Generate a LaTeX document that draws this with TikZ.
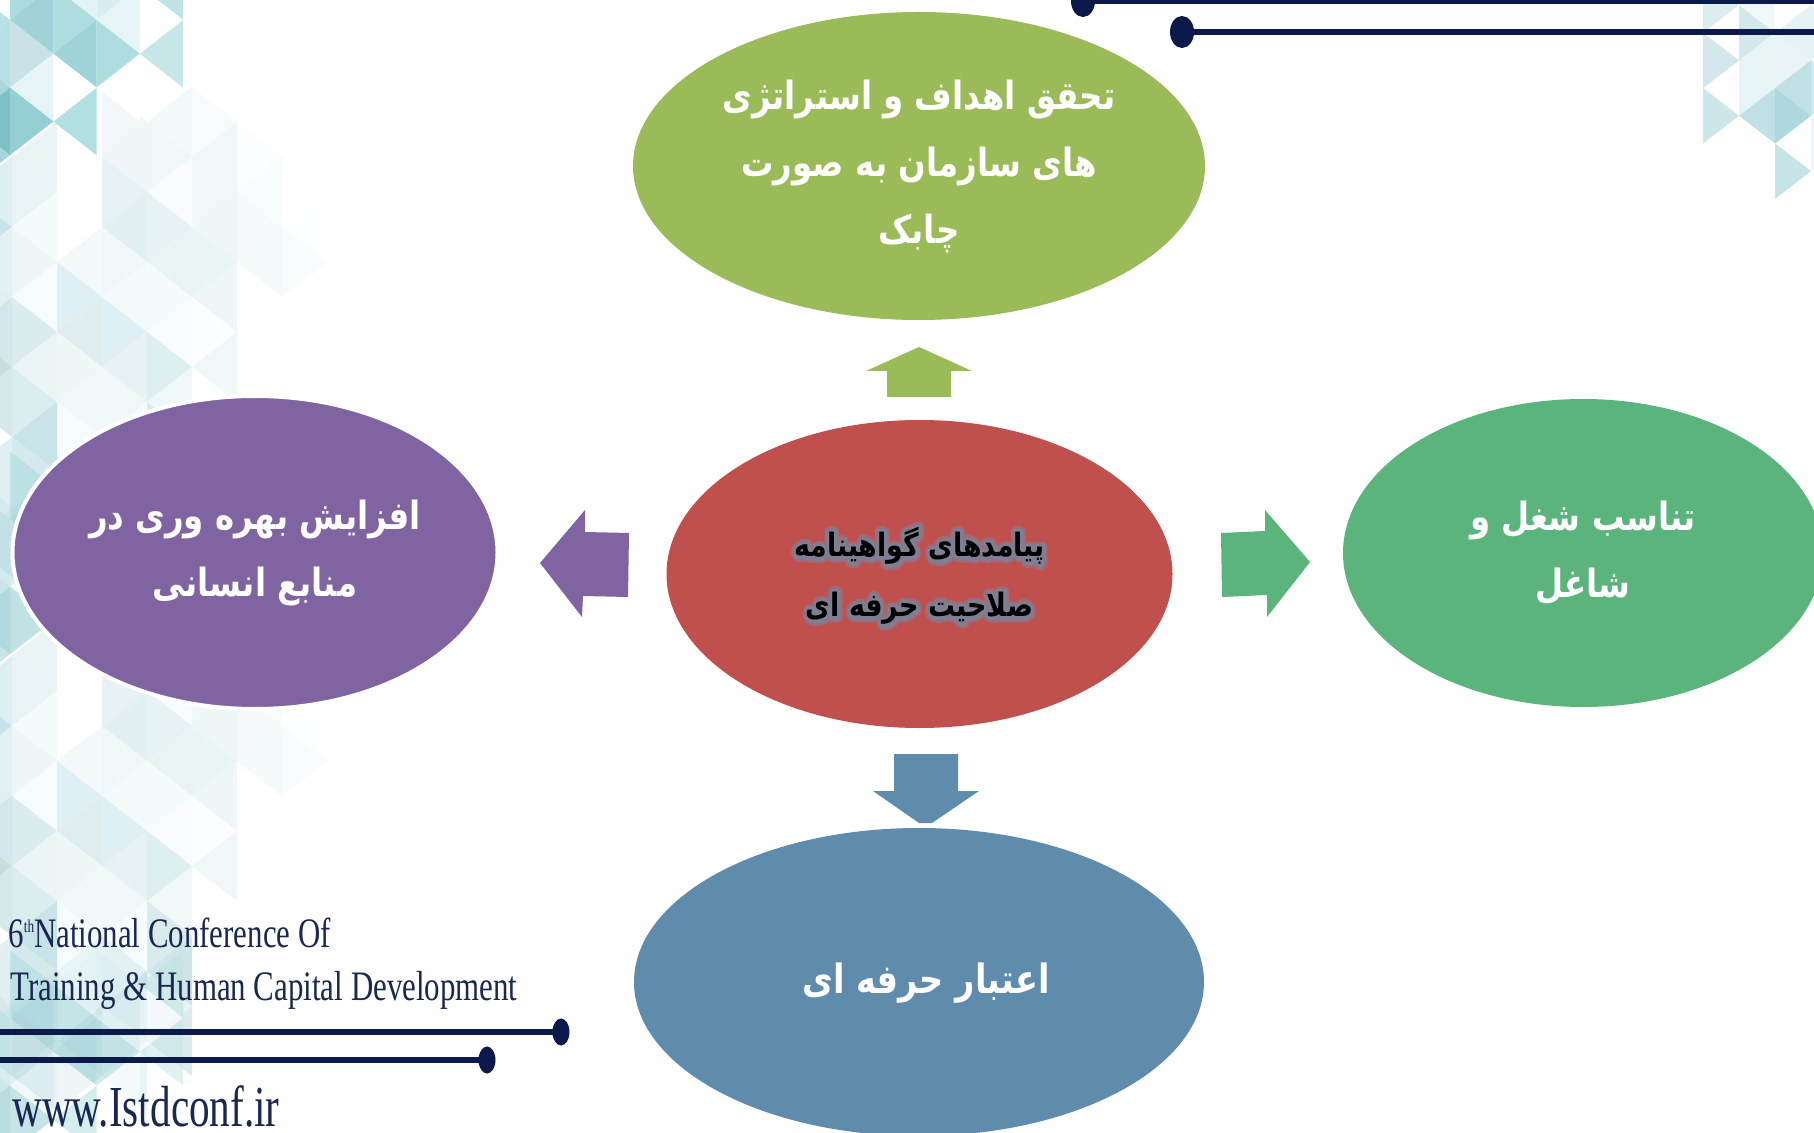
\documentclass[tikz,border=0pt]{standalone}
\usepackage{fontspec}
\usepackage{graphicx}
\usetikzlibrary{shapes.geometric}
\setmainfont{Liberation Serif}
\TeXXeTstate=1
\newfontfamily\fa[Script=Arabic]{DejaVu Sans Bold}
\newcommand{\fl}[1]{\scalebox{1}[1.2]{\beginR #1\endR}}
\newcommand{\haloon}[1]{\special{pdf:code 2 Tr #1}}
\newcommand{\halooff}{\special{pdf:code 0 Tr}}
% triangle lattice helpers
\def\xa{0}\def\dxx{1}\def\ya{0}\def\dyy{1}\def\topa{1}
\newcommand{\setlat}[4]{\def\xa{#1}\def\dxx{#2}\def\ya{#3}\def\dyy{#4}}
\newcommand{\Rt}[3]{\definecolor{tc}{HTML}{#3}\fill[tc,fill opacity=\topa]
 ({\xa+\dxx*(#1)},{\ya+\dyy*(#2-1)}) -- ({\xa+\dxx*(#1)},{\ya+\dyy*(#2+1)}) -- ({\xa+\dxx*(#1+1)},{\ya+\dyy*(#2)}) -- cycle;}
\newcommand{\Lt}[3]{\definecolor{tc}{HTML}{#3}\fill[tc,fill opacity=\topa]
 ({\xa+\dxx*(#1+1)},{\ya+\dyy*(#2-1)}) -- ({\xa+\dxx*(#1+1)},{\ya+\dyy*(#2+1)}) -- ({\xa+\dxx*(#1)},{\ya+\dyy*(#2)}) -- cycle;}
\newcommand{\paletile}[1]{%
 \setlat{12}{45}{#1}{35}%
 \Rt{2}{1}{F1F7F8}\Lt{2}{2}{F0F6F8}\Rt{2}{3}{E6F2F5}\Lt{2}{4}{E3F0F1}\Rt{2}{5}{EFF7F8}\Lt{2}{6}{F4F9FA}\Rt{2}{7}{DFF0F4}\Lt{2}{8}{E6F2F3}%
 \Lt{3}{1}{F3F8F9}\Rt{3}{2}{F1F7F9}\Lt{3}{3}{F8FCFD}\Rt{3}{4}{E6F2F3}\Lt{3}{5}{E8F3F4}\Rt{3}{6}{F5FAFB}\Lt{3}{7}{F8FCFD}\Rt{3}{8}{DEEFF0}%
 \Rt{4}{1}{F8FBFC}\Lt{4}{2}{EFF7F9}\Rt{4}{3}{F0F7F9}\Lt{4}{4}{EEF6F7}\Rt{4}{5}{E9F4F5}\Lt{4}{6}{EEF6F7}\Rt{4}{7}{FBFDFE}\Lt{4}{8}{EFF7F7}%
 \Rt{5}{2}{FBFDFE}\Lt{5}{3}{F9FCFD}\Rt{5}{4}{F6FAFB}\Lt{5}{5}{F5FAFA}\Lt{6}{4}{FDFEFE}\Rt{6}{5}{F9FCFC}%
 \Lt{1}{5}{F3F9FA}\Rt{1}{6}{DFF0F5}\Lt{1}{7}{E0EDEE}\Rt{1}{8}{EEF6F8}%
 \Lt{0}{2}{E9F3F4}\Rt{0}{3}{E8F3F6}\Lt{0}{4}{F5FAFB}\Rt{0}{5}{EEF6F8}\Lt{0}{6}{F6FBFC}\Rt{0}{7}{DAECEE}\Lt{0}{8}{EBF5F6}%
 \Lt{-1}{3}{DDEEF3}\Rt{-1}{4}{C6E2EA}\Lt{-1}{5}{E3F1F4}\Rt{-1}{6}{E0EFF2}\Lt{-1}{7}{D3E7EA}\Rt{-1}{8}{C5DEE0}%
 \Lt{3}{9}{EFF7F8}\Rt{3}{10}{D9EBED}\Lt{3}{11}{CFE5E8}\Rt{3}{12}{E6F2F4}\Lt{3}{13}{DCECEE}%
 \Rt{2}{9}{F0F7F8}\Lt{2}{10}{F6FBFB}\Rt{2}{11}{E4F1F3}\Lt{2}{12}{C9E2E6}\Rt{2}{13}{D9ECEE}\Lt{2}{14}{E8F4F5}%
 \Lt{1}{9}{F1F8F9}\Rt{1}{10}{F6FBFB}\Lt{1}{11}{E8F4F6}\Rt{1}{12}{E0EFF2}\Lt{1}{13}{C8E1E4}\Rt{1}{14}{D8EBEE}%
 \Rt{0}{9}{DCEDF0}\Lt{0}{10}{C9E4E8}\Rt{0}{11}{D5E9EC}\Lt{0}{12}{C8E2E6}\Rt{0}{13}{C0DDE1}\Lt{0}{14}{D0E6EA}%
 \Lt{-1}{9}{D5E8EA}\Lt{-1}{11}{E0EFF1}\Rt{-1}{12}{D6E9EC}\Lt{-1}{13}{CFE6E9}%
}
\newcommand{\darktile}[2]{%
 \def\topa{#2}\setlat{10}{43.3}{#1}{33.8}%
 \Rt{-1}{0}{B8E0E5}\Lt{-1}{1}{B8DFE4}\Rt{-1}{2}{A8D6DC}\Lt{-1}{3}{7FC0C7}\Rt{-1}{4}{A5D5DA}%
 \Rt{0}{-1}{ABDCE0}\Lt{0}{0}{A0D2D8}\Rt{0}{1}{C8E2E8}\Lt{0}{2}{E6F4F7}\Rt{0}{3}{96CFD3}%
 \Lt{1}{-1}{E3F3F5}\Rt{1}{0}{AEDDE0}\Lt{1}{1}{9FD3D8}\Lt{1}{3}{B2DFE0}\Rt{1}{2}{FFFFFF}%
 \Rt{2}{-1}{D6EDF2}\Lt{2}{0}{E6F4F6}\Rt{2}{1}{AEDDDF}\Lt{2}{2}{FFFFFF}%
 \Lt{3}{-1}{BFE2E5}\Rt{3}{0}{FFFFFF}\Lt{3}{1}{C7E6E8}%
 \def\topa{1}%
}
\tikzset{
 blob/.style={ellipse,inner sep=0pt,outer sep=0pt,draw=none,align=center,text=white,
   font=\fa\fontsize{16.2}{20}\selectfont},
 flow/.style={line join=miter,draw=none},
 navyline/.style={draw=navy,line width=3pt},
 knob/.style={ellipse,fill=navy,inner sep=0pt,outer sep=0pt,draw=none},
 conf/.style={anchor=base west,inner sep=0pt,text=navytext},
 corefont/.style={align=center,font=\fa\fontsize{13.4}{18}\selectfont},
}
\definecolor{navy}{HTML}{0B1A4A}
\definecolor{navytext}{HTML}{1A2850}
\definecolor{cgreen}{HTML}{9BBB59}
\definecolor{cred}{HTML}{C0504D}
\definecolor{cpurple}{HTML}{8064A2}
\definecolor{cteal}{HTML}{5BB47C}
\definecolor{cblue}{HTML}{5F8BAC}
\definecolor{glow}{HTML}{A06A78}
\definecolor{glowb}{HTML}{7E7F92}
\begin{document}
\begin{tikzpicture}[x=0.5pt,y=-0.5pt]
\useasboundingbox (0,0) rectangle (1814,1133);
\fill[white] (0,0) rectangle (1814,1133);
% background triangles
\begin{scope}
\clip (0,0) rectangle (1814,1133);
\paletile{87}
\paletile{586}
\darktile{20}{1}
\darktile{519}{.6}
\darktile{1018}{.55}
\setlat{1703}{36}{5}{27.7}
\Rt{0}{0}{DCEDF0}\Rt{0}{2}{D4E8EB}\Rt{0}{4}{CDE6E9}
\Rt{1}{1}{D3E8EC}\Lt{1}{0}{F0F8F9}\Lt{1}{2}{E9F4F5}\Rt{1}{3}{E8F5F7}\Lt{1}{4}{BFE1E5}
\Rt{2}{2}{E8F4F6}\Lt{2}{1}{E6F3F5}\Lt{2}{3}{BFE1E5}\Rt{2}{4}{AFD8DD}\Rt{2}{6}{C5E4E7}
\Rt{3}{1}{E6F3F4}\Rt{3}{3}{CFE8EA}\Rt{3}{5}{EEF7F8}
\end{scope}
% ellipses
\node[blob,fill=cgreen,minimum width=286pt,minimum height=154pt] (goal) at (919,166)
  {\fl{تحقق اهداف و استراتژی}\\[13.5pt]\fl{های سازمان به صورت}\\[13.5pt]\fl{چابک}};
\node[blob,fill=cred,minimum width=253pt,minimum height=154pt] (core) at (919.5,574) {};
\node[blob,fill=cpurple,draw=white,line width=2pt,minimum width=242.5pt,minimum height=156.5pt] (prod) at (255,552.5)
  {\fl{افزایش بهره وری در}\\[13.5pt]\fl{منابع انسانی}};
\node[blob,fill=cteal,minimum width=240pt,minimum height=154pt] (fit) at (1583,553)
  {\fl{تناسب شغل و}\\[13.5pt]\fl{شاغل}};
\node[blob,fill=cblue,minimum width=285pt,minimum height=154pt] (cred) at (919,982) {};
\node[align=center,text=white,font=\fa\fontsize{16.8}{20}\selectfont] (credlabel) at (926,983) {\fl{اعتبار حرفه ای}};
% central label with halo
\node[corefont,text=glow] (coreglow) at ([yshift=-1pt]core.center)
  {\haloon{5 w 1 j 0.627 0.416 0.471 RG}\fl{پیامدهای گواهینامه}\\[12pt]\fl{صلاحیت حرفه ای}\halooff};
\node[corefont,text=glowb] (coremid) at (coreglow.center)
  {\haloon{3 w 1 j 0.494 0.498 0.573 RG}\fl{پیامدهای گواهینامه}\\[12pt]\fl{صلاحیت حرفه ای}\halooff};
\node[corefont,text=black] (corelabel) at (coreglow.center)
  {\fl{پیامدهای گواهینامه}\\[12pt]\fl{صلاحیت حرفه ای}};
% block arrows
\fill[cgreen,flow] (919,347) -- (972,371) -- (951,371) -- (951,397) -- (887,397) -- (887,371) -- (866,371) -- cycle;
\fill[cblue,flow] (894,754) -- (958,754) -- (958,791) -- (979,791) -- (932,823) -- (919,823) -- (873,791) -- (894,791) -- cycle;
\fill[cpurple,flow] (540,563) -- (585,510) -- (585,532) -- (629,533) -- (628,597) -- (583,596) -- (582,617) -- cycle;
\fill[cteal,flow] (1310,562) -- (1265,510) -- (1265,531) -- (1221,533) -- (1222,597) -- (1267,595) -- (1267,617) -- cycle;
% rules with knobs
\node[knob,minimum width=12pt,minimum height=16pt] (k1) at (1083,1) {};
\node[knob,minimum width=12pt,minimum height=16pt] (k2) at (1182,32) {};
\node[knob,minimum width=8.5pt,minimum height=13.5pt] (k3) at (561,1032) {};
\node[knob,minimum width=8.5pt,minimum height=13.5pt] (k4) at (487,1060) {};
\coordinate (e1) at (1814,1);
\coordinate (e2) at (1814,32);
\coordinate (e3) at (0,1032);
\coordinate (e4) at (0,1060);
\draw[navyline] (k1) -- (e1);
\draw[navyline] (k2) -- (e2);
\draw[navyline] (k3) -- (e3);
\draw[navyline] (k4) -- (e4);
% conference text
\node[conf] (t1) at (8,947) {\scalebox{.735}[1]{\fontsize{21}{24}\selectfont 6\raisebox{.75ex}{\fontsize{9}{10}\selectfont th}National Conference Of}};
\node[conf] (t2) at (10,1000) {\scalebox{.736}[1]{\fontsize{21}{24}\selectfont Training \& Human Capital Development}};
\node[conf] (t3) at (12,1126) {\scalebox{.71}[1]{\fontsize{29}{32}\selectfont www.Istdconf.ir}};
\end{tikzpicture}
\end{document}
